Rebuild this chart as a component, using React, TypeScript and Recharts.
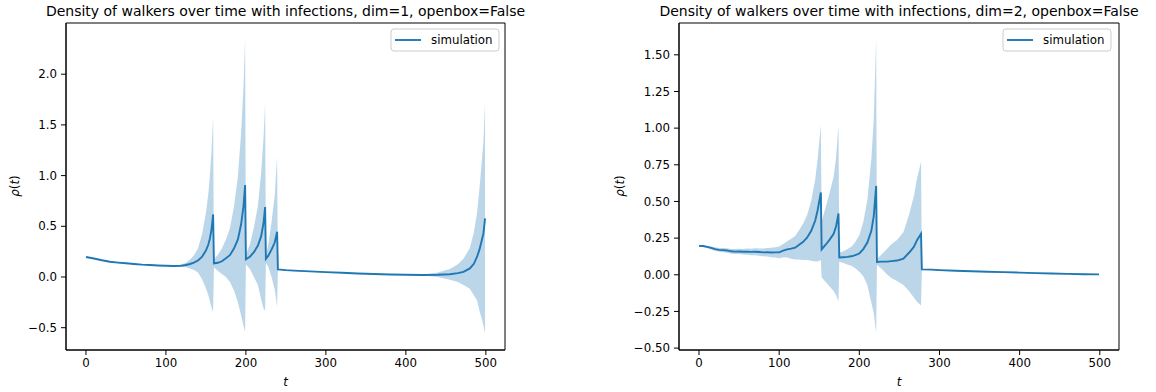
import React from "react";
import { ComposedChart, Area, Line, XAxis, YAxis, ReferenceArea } from "recharts";

// ---- dim=1 panel ----
const leftT = [
  0, 10, 20, 30, 40, 50, 60, 70, 80, 90, 100, 110, 118, 125, 130, 135, 140, 145, 150, 153, 155, 157, 159,
  160, 165, 170, 175, 180, 185, 190, 194, 197, 199,
  200, 205, 210, 215, 219, 222, 224,
  225, 228, 232, 236, 239,
  240, 250, 260, 280, 300, 320, 340, 360, 380, 400, 420, 440, 455, 465, 472, 480, 485, 489, 492, 495, 497, 499,
];
const leftMean = [
  0.197, 0.182, 0.165, 0.15, 0.142, 0.135, 0.128, 0.122, 0.118, 0.114, 0.111, 0.109, 0.11, 0.118, 0.128, 0.142, 0.163, 0.198, 0.26, 0.32, 0.38, 0.47, 0.617,
  0.135, 0.14, 0.155, 0.185, 0.215, 0.28, 0.37, 0.52, 0.7, 0.906,
  0.174, 0.2, 0.245, 0.31, 0.4, 0.53, 0.69,
  0.18, 0.21, 0.27, 0.34, 0.446,
  0.075, 0.068, 0.063, 0.055, 0.048, 0.042, 0.035, 0.03, 0.025, 0.022, 0.02, 0.022, 0.027, 0.038, 0.05, 0.085, 0.13, 0.2, 0.27, 0.365, 0.43, 0.578,
];
// half width of the shaded band (std)
const leftSpread = [
  0.003, 0.003, 0.003, 0.003, 0.003, 0.003, 0.003, 0.003, 0.003, 0.003, 0.003, 0.004, 0.01, 0.023, 0.043, 0.072, 0.118, 0.218, 0.37, 0.5, 0.62, 0.77, 0.965,
  0.04, 0.08, 0.125, 0.185, 0.265, 0.41, 0.62, 0.9, 1.18, 1.445,
  0.05, 0.12, 0.245, 0.39, 0.62, 0.84, 1.02,
  0.04, 0.11, 0.27, 0.46, 0.74,
  0.004, 0.003, 0.003, 0.003, 0.003, 0.003, 0.003, 0.003, 0.003, 0.003, 0.005, 0.022, 0.053, 0.087, 0.13, 0.2, 0.31, 0.43, 0.6, 0.78, 0.91, 1.135,
];

// ---- dim=2 panel ----
const rightT = [
  0, 5, 10, 15, 20, 25, 30, 35, 40, 45, 50, 55, 60, 65, 70, 75, 80, 85, 90, 95, 100, 105, 110, 115, 120, 125, 130, 135, 140, 145, 148, 152,
  153, 158, 163, 168, 171, 174,
  175, 180, 185, 190, 195, 200, 205, 210, 215, 218, 221,
  222, 228, 235, 240, 247, 255, 262, 268, 272, 277,
  278, 290, 300, 320, 340, 360, 380, 400, 420, 440, 460, 480, 499,
];
const rightMean = [
  0.197, 0.196, 0.19, 0.183, 0.175, 0.17, 0.168, 0.166, 0.16, 0.158, 0.159, 0.157, 0.158, 0.156, 0.157, 0.155, 0.153, 0.154, 0.152, 0.153, 0.153, 0.165, 0.173, 0.178, 0.185, 0.205, 0.225, 0.255, 0.3, 0.37, 0.44, 0.561,
  0.173, 0.205, 0.24, 0.28, 0.33, 0.418,
  0.118, 0.12, 0.122, 0.126, 0.134, 0.145, 0.175, 0.22, 0.3, 0.4, 0.606,
  0.088, 0.09, 0.09, 0.093, 0.097, 0.11, 0.15, 0.19, 0.236, 0.28,
  0.037, 0.035, 0.032, 0.027, 0.024, 0.021, 0.018, 0.015, 0.011, 0.009, 0.006, 0.004, 0.003,
];
const rightSpread = [
  0.004, 0.005, 0.008, 0.01, 0.012, 0.013, 0.015, 0.015, 0.016, 0.017, 0.018, 0.019, 0.021, 0.022, 0.024, 0.025, 0.027, 0.029, 0.032, 0.035, 0.04, 0.045, 0.055, 0.068, 0.08, 0.1, 0.125, 0.155, 0.205, 0.28, 0.35, 0.46,
  0.19, 0.255, 0.32, 0.39, 0.47, 0.6,
  0.03, 0.04, 0.052, 0.065, 0.09, 0.125, 0.185, 0.29, 0.49, 0.66, 1.005,
  0.02, 0.05, 0.09, 0.115, 0.14, 0.18, 0.26, 0.345, 0.42, 0.49,
  0.003, 0.002, 0.002, 0.002, 0.002, 0.002, 0.002, 0.002, 0.002, 0.002, 0.002, 0.002, 0.002,
];

const xTicks = [0, 100, 200, 300, 400, 500];
const leftYTicks = [-0.5, 0, 0.5, 1, 1.5, 2];
const rightYTicks = [-0.5, -0.25, 0, 0.25, 0.5, 0.75, 1, 1.25, 1.5];

const BLUE = "#1f77b4";
const FONT = "'DejaVu Sans', sans-serif";
const TICK_FONT = 11.8;

function buildRows(t: number[], mean: number[], spread: number[]) {
  return t.map((x, i) => ({
    t: x,
    mean: mean[i],
    band: [mean[i] - spread[i], mean[i] + spread[i]],
  }));
}

const fmt = (digits: number) => (v: number) => v.toFixed(digits).replace("-", "\u2212");

interface PanelProps {
  data: { t: number; mean: number; band: number[] }[];
  left: number;
  width: number;
  plotLeft: number;
  plotRight: number;
  yAxisWidth: number;
  yDomain: [number, number];
  yTicks: number[];
  digits: number;
}

const xDomain: [number, number] = [-24.95, 523.95];

function Panel({ data, left, width, plotLeft, plotRight, yAxisWidth, yDomain, yTicks, digits }: PanelProps) {
  const tickStyle = { fill: "#000", fontSize: TICK_FONT, fontFamily: FONT };
  return (
    <div style={{ position: "absolute", left, top: 0 }}>
      <ComposedChart
        width={width}
        height={392}
        data={data}
        margin={{ top: 23, bottom: 12, left: plotLeft - left - yAxisWidth, right: left + width - plotRight }}
      >
        <XAxis
          dataKey="t"
          type="number"
          domain={xDomain}
          ticks={xTicks}
          interval={0}
          allowDataOverflow
          height={30}
          tickSize={5}
          tickMargin={4}
          stroke="#000"
          tick={tickStyle}
        />
        <YAxis
          type="number"
          domain={yDomain}
          ticks={yTicks}
          interval={0}
          allowDataOverflow
          width={yAxisWidth}
          tickSize={5}
          tickMargin={4}
          stroke="#000"
          tick={tickStyle}
          tickFormatter={fmt(digits)}
        />
        <Area
          dataKey="band"
          type="linear"
          stroke="none"
          fill={BLUE}
          fillOpacity={0.3}
          isAnimationActive={false}
        />
        <Line
          dataKey="mean"
          type="linear"
          stroke={BLUE}
          strokeWidth={1.9}
          dot={false}
          isAnimationActive={false}
        />
        <ReferenceArea
          x1={xDomain[0]}
          x2={xDomain[1]}
          y1={yDomain[0]}
          y2={yDomain[1]}
          fill="none"
          stroke="#000"
          strokeWidth={1}
          ifOverflow="visible"
        />
      </ComposedChart>
    </div>
  );
}

function RhoLabel({ x, y }: { x: number; y: number }) {
  return (
    <text
      x={x}
      y={y}
      transform={`rotate(-90 ${x} ${y})`}
      textAnchor="middle"
      dominantBaseline="central"
      fontSize={TICK_FONT}
      fontFamily={FONT}
      fill="#000"
    >
      <tspan fontStyle="italic">ρ</tspan>
      <tspan>(</tspan>
      <tspan fontStyle="italic">t</tspan>
      <tspan>)</tspan>
    </text>
  );
}

function LegendBox({ x }: { x: number }) {
  return (
    <g>
      <rect x={x} y={29} width={108} height={22} rx={3} fill="#fff" fillOpacity={0.8} stroke="#cccccc" strokeWidth={1} />
      <line x1={x + 4} y1={40} x2={x + 30} y2={40} stroke={BLUE} strokeWidth={1.9} />
      <text x={x + 40} y={44.2} fontSize={TICK_FONT} fontFamily={FONT} fill="#000">
        simulation
      </text>
    </g>
  );
}

export default function App() {
  const leftData = buildRows(leftT, leftMean, leftSpread);
  const rightData = buildRows(rightT, rightMean, rightSpread);

  return (
    <div style={{ position: "absolute", left: 0, top: 0, width: 1156, height: 392, background: "#fff" }}>
      <Panel
        data={leftData}
        left={0}
        width={540}
        plotLeft={66}
        plotRight={505}
        yAxisWidth={40}
        yDomain={[-0.72, 2.505]}
        yTicks={leftYTicks}
        digits={1}
      />
      <Panel
        data={rightData}
        left={590}
        width={566}
        plotLeft={679}
        plotRight={1119}
        yAxisWidth={50}
        yDomain={[-0.513, 1.717]}
        yTicks={rightYTicks}
        digits={2}
      />
      <svg
        width={1156}
        height={392}
        style={{ position: "absolute", left: 0, top: 0, pointerEvents: "none" }}
      >
        <text x={285.5} y={15.5} textAnchor="middle" fontSize={14} fontFamily={FONT} fill="#000">
          Density of walkers over time with infections, dim=1, openbox=False
        </text>
        <text x={899} y={15.5} textAnchor="middle" fontSize={14} fontFamily={FONT} fill="#000">
          Density of walkers over time with infections, dim=2, openbox=False
        </text>
        <text x={285.5} y={386} textAnchor="middle" fontSize={TICK_FONT} fontFamily={FONT} fontStyle="italic" fill="#000">
          t
        </text>
        <text x={899} y={386} textAnchor="middle" fontSize={TICK_FONT} fontFamily={FONT} fontStyle="italic" fill="#000">
          t
        </text>
        <RhoLabel x={15} y={186} />
        <RhoLabel x={620} y={186} />
        <LegendBox x={391} />
        <LegendBox x={1003} />
      </svg>
    </div>
  );
}
